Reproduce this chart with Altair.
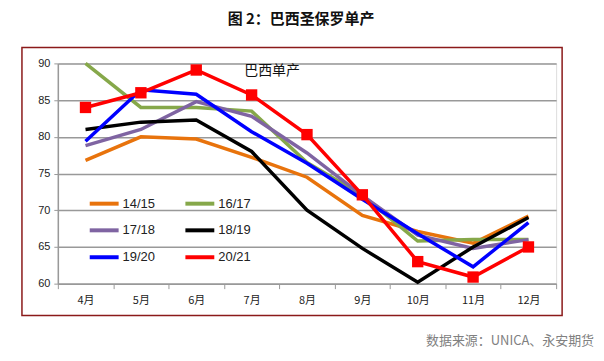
import altair as alt
import pandas as pd

months = ["4月", "5月", "6月", "7月", "8月", "9月", "10月", "11月", "12月"]
series_names = ["14/15", "16/17", "17/18", "18/19", "19/20", "20/21"]
colors = ["#E8730C", "#86A84A", "#7F64A2", "#000000", "#0000FF", "#FF0000"]

s_1415 = [76.8, 80.0, 79.7, 77.2, 74.5, 69.3, 67.1, 65.5, 69.2]
s_1617 = [90.0, 84.0, 84.0, 83.5, 76.5, 72.0, 65.8, 66.0, 66.0]
s_1718 = [78.8, 81.0, 84.8, 82.8, 77.8, 72.0, 66.6, 64.8, 66.0]
s_1819 = [81.0, 82.0, 82.3, 78.0, 70.0, 64.8, 60.2, 65.0, 69.0]
s_1920 = [79.4, 86.4, 85.8, 80.7, 76.4, 71.5, 66.8, 62.3, 68.3]
s_2021 = [84.0, 86.0, 89.1, 85.7, 80.3, 72.1, 63.0, 60.9, 65.0]
y_ticks = [60, 65, 70, 75, 80, 85, 90]

all_series = [s_1415, s_1617, s_1718, s_1819, s_1920, s_2021]
rows = []
for name, vals in zip(series_names, all_series):
    for m, v in zip(months, vals):
        rows.append({"month": m, "series": name, "value": v})
df = pd.DataFrame(rows)

FONT = "Liberation Sans"

x_enc = alt.X("month:N", sort=months,
              scale=alt.Scale(type="band", paddingInner=0, paddingOuter=0),
              axis=alt.Axis(title=None, tickBand="extent", labelAngle=0,
                            labelFont="Noto Sans CJK SC", labelFontSize=11,
                            labelColor="#222", domainColor="#999", tickColor="#999",
                            tickSize=5, domainWidth=1.5, labelPadding=6, grid=False))
y_enc = alt.Y("value:Q", scale=alt.Scale(domain=[60, 90], nice=False, zero=False),
              axis=alt.Axis(title=None, values=y_ticks, tickCount=7,
                            labelOverlap=False,
                            labelFont=FONT, labelFontSize=11, labelColor="#222",
                            domainColor="#999", domainWidth=1.5, tickColor="#999",
                            tickSize=4, gridColor="#999", gridWidth=1.5, labelPadding=4))

lines = alt.Chart(df).mark_line(strokeWidth=3.5).encode(
    x=x_enc, y=y_enc,
    color=alt.Color("series:N", sort=series_names,
                    scale=alt.Scale(domain=series_names, range=colors),
                    legend=alt.Legend(title=None, orient="none", legendX=30, legendY=124,
                                      direction="horizontal",
                                      columns=2, symbolType="stroke", symbolSize=841,
                                      symbolStrokeWidth=4, labelFont=FONT, labelFontSize=13,
                                      labelColor="#222", columnPadding=22, rowPadding=2,
                                      labelOffset=2)),
    order=alt.Order("series:N"),
)

points = alt.Chart(df[df["series"] == "20/21"]).mark_point(
    shape="square", filled=True, size=130, opacity=1, color="#FF0000"
).encode(x=x_enc, y=y_enc)

frame = alt.Chart(pd.DataFrame({"a": [0]})).mark_rect(
    fill=None, stroke="#8B1A1A", strokeWidth=1.5
).encode(x=alt.value(-36), x2=alt.value(506), y=alt.value(-16), y2=alt.value(253))

inner_title = alt.Chart(pd.DataFrame({"t": ["巴西单产"]})).mark_text(
    font="Noto Sans CJK SC", fontSize=14, color="#111", align="center", baseline="middle"
).encode(text="t:N", x=alt.value(215), y=alt.value(8))

main_title = alt.Chart(pd.DataFrame({"t": ["图 2：巴西圣保罗单产"]})).mark_text(
    font="Noto Sans CJK SC", fontSize=15, fontWeight="bold", color="#111",
    align="center", baseline="middle"
).encode(text="t:N", x=alt.value(244), y=alt.value(-45))

source = alt.Chart(pd.DataFrame({"t": ["数据来源：UNICA、永安期货"]})).mark_text(
    font="Noto Sans CJK SC", fontSize=13, color="#808080", align="right", baseline="middle"
).encode(text="t:N", x=alt.value(538), y=alt.value(279))

chart = alt.layer(lines, points, frame, inner_title, main_title, source).properties(
    width=500, height=221,
    autosize=alt.AutoSizeParams(type="none"),
    padding={"left": 50, "top": 55, "right": 40, "bottom": 70},
).configure_view(stroke=None).configure(background="white")

chart.save("out.html", embed_options={"renderer": "svg", "actions": False})
